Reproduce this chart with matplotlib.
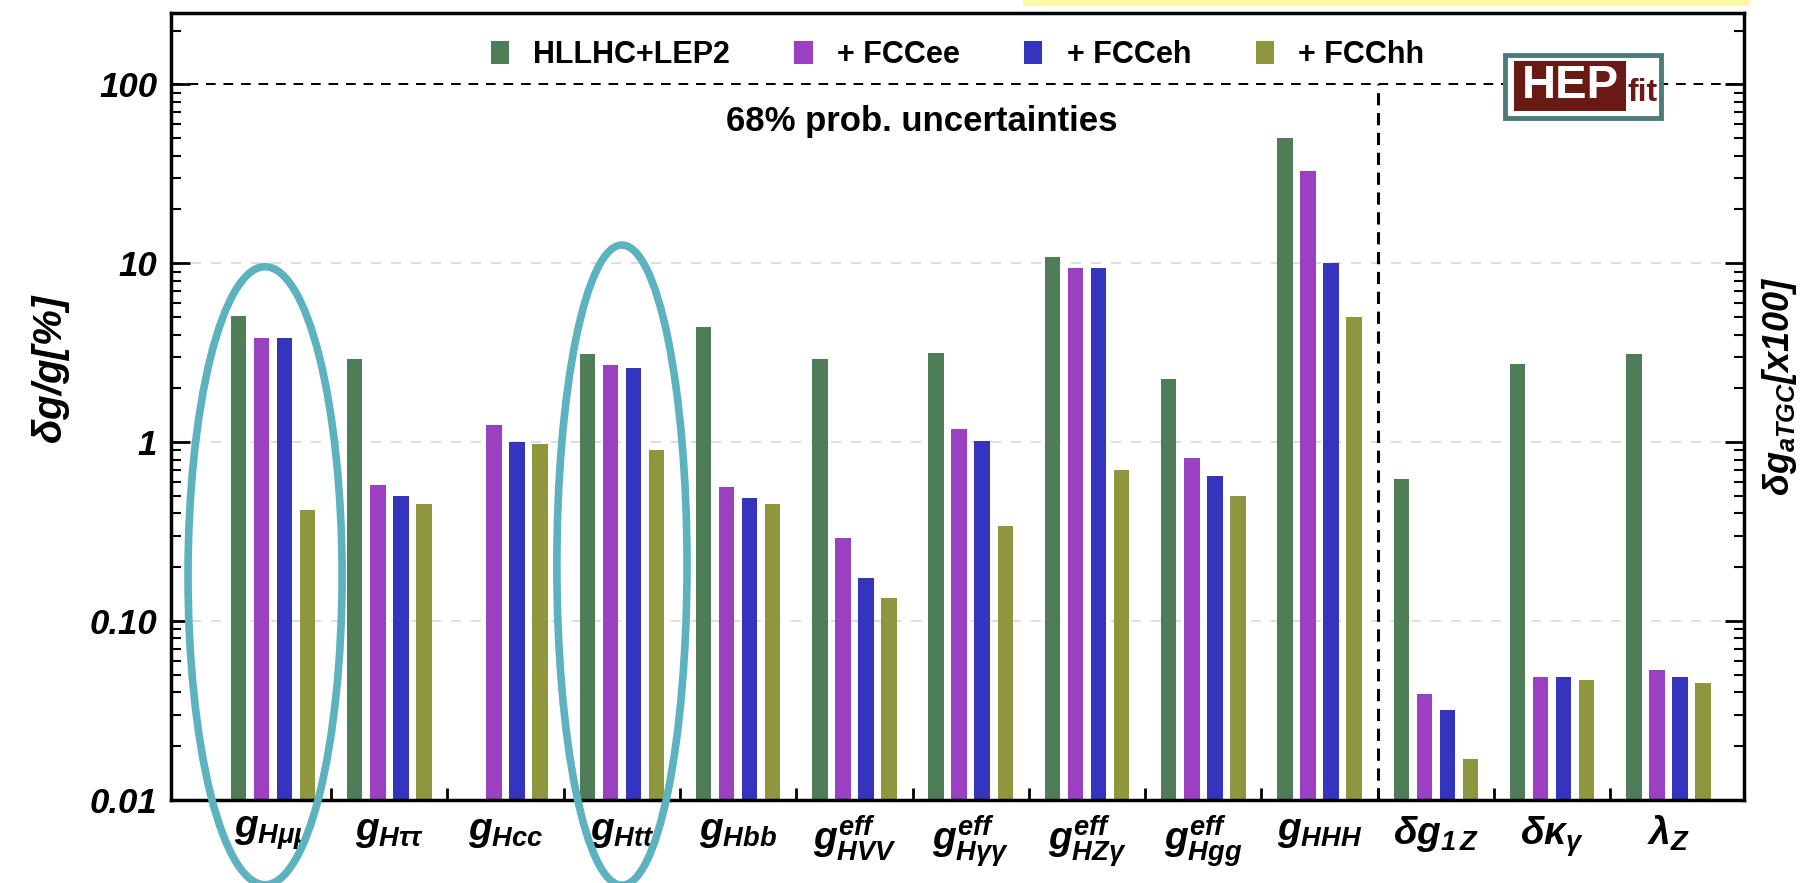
import numpy as np
import matplotlib
matplotlib.use("Agg")
import matplotlib.pyplot as plt
from matplotlib.patches import Ellipse, Rectangle
from matplotlib.ticker import FixedLocator, LogLocator, NullFormatter

plt.rcParams['font.family'] = ['Liberation Sans', 'DejaVu Sans']
plt.rcParams['mathtext.fontset'] = 'custom'
plt.rcParams['mathtext.rm'] = 'Liberation Sans:bold:italic'
plt.rcParams['mathtext.it'] = 'Liberation Sans:bold:italic'
plt.rcParams['mathtext.bf'] = 'Liberation Sans:bold:italic'

# coupling labels
labels = [r'$g_{H\mu\mu}$', r'$g_{H\tau\tau}$', r'$g_{Hcc}$', r'$g_{Htt}$', r'$g_{Hbb}$',
          r'$g^{eff}_{HVV}$', r'$g^{eff}_{H\gamma\gamma}$', r'$g^{eff}_{HZ\gamma}$',
          r'$g^{eff}_{Hgg}$', r'$g_{HHH}$', r'$\delta g_{1\,Z}$', r'$\delta\kappa_{\gamma}$',
          r'$\lambda_{Z}$']

# 68% prob. uncertainties, in %
hllhc = [5.1, 2.9, np.nan, 3.1, 4.4, 2.9, 3.15, 10.8, 2.25, 50, 0.62, 2.75, 3.1]
fccee = [3.8, 0.58, 1.25, 2.7, 0.56, 0.29, 1.18, 9.4, 0.82, 33, 0.039, 0.049, 0.053]
fcceh = [3.8, 0.50, 1.0, 2.6, 0.49, 0.175, 1.02, 9.4, 0.65, 10, 0.032, 0.049, 0.049]
fcchh = [0.42, 0.45, 0.98, 0.90, 0.45, 0.135, 0.34, 0.70, 0.50, 5.0, 0.017, 0.047, 0.045]

series = [('HLLHC+LEP2', hllhc, '#4e7d58'),
          ('+ FCCee', fccee, '#9b40c1'),
          ('+ FCCeh', fcceh, '#3434bf'),
          ('+ FCChh', fcchh, '#8e973e')]

fig = plt.figure(figsize=(18.08, 8.83), dpi=100)
ax = fig.add_axes([0.0946, 0.094, 0.87, 0.891])

x = np.arange(len(labels))
step = 0.198
width = 0.133
for i, (name, vals, col) in enumerate(series):
    ax.bar(x + (i - 1.5) * step, vals, width=width, color=col, label=name, zorder=2)

ax.set_yscale('log')
ax.set_ylim(0.01, 250)
ax.set_xlim(-0.877, 12.65)

# reference lines
for v in [0.1, 1, 10]:
    ax.axhline(v, color='#d8d8d8', lw=1.2, ls=(0, (6, 6)), zorder=1)
ax.axhline(100, color='black', lw=1.4, ls=(0, (5, 4)), zorder=1)
ax.axvline(9.5, ymax=np.log10(100 / 0.01) / np.log10(250 / 0.01), color='black',
           lw=2.2, ls=(0, (4, 2.5)), zorder=3)

# y ticks
ax.yaxis.set_major_locator(FixedLocator([0.01, 0.1, 1, 10, 100]))
ax.set_yticklabels(['0.01', '0.10', '1', '10', '100'])
ax.yaxis.set_minor_locator(LogLocator(base=10, subs=np.arange(2, 10)))
ax.yaxis.set_minor_formatter(NullFormatter())
ax.tick_params(axis='y', which='major', direction='in', length=14, width=2,
               right=True, labelsize=25, pad=10)
ax.tick_params(axis='y', which='minor', direction='in', length=7, width=1.5, right=True)
for t in ax.get_yticklabels():
    t.set_fontweight('bold')
    t.set_fontstyle('italic')

# x ticks
ax.set_xticks(x)
ax.set_xticklabels(labels, fontsize=28)
ax.set_xticks(np.arange(0.5, len(labels) - 1, 1), minor=True)
ax.tick_params(axis='x', which='major', length=0, pad=10)
ax.tick_params(axis='x', which='minor', direction='in', length=9, width=2)

for s in ax.spines.values():
    s.set_linewidth(2.5)

fig.text(0.028, 0.582, r'$\delta g/g[\%]$', fontsize=29, rotation=90,
         ha='center', va='center')
fig.text(0.984, 0.563, r'$\delta g_{aTGC}[x100]$', fontsize=26, rotation=90,
         ha='center', va='center')

ax.legend(loc='center', bbox_to_anchor=(0.5, 0.947), ncol=4, frameon=False,
          prop={'weight': 'bold', 'size': 22}, handlelength=0.6,
          handleheight=0.8, columnspacing=2.1, handletextpad=0.8)
ax.text(0.477, 0.863, '68% prob. uncertainties', transform=ax.transAxes,
        ha='center', va='center', fontsize=25, fontweight='bold')

# HEPfit logo
ax.add_patch(Rectangle((0.848, 0.867), 0.099, 0.080, transform=ax.transAxes,
                       facecolor='white', edgecolor='#4b7a77', lw=3.5, zorder=4))
ax.add_patch(Rectangle((0.854, 0.8755), 0.0712, 0.0635, transform=ax.transAxes,
                       facecolor='#6a1a15', edgecolor='none', zorder=5))
ax.text(0.8895, 0.907, 'HEP', transform=ax.transAxes, ha='center', va='center',
        color='white', fontsize=34, fontweight='bold', zorder=6,
        family=['Liberation Sans Narrow', 'Liberation Sans'])
ax.text(0.9355, 0.899, 'fit', transform=ax.transAxes, ha='center', va='center',
        color='#6a1a15', fontsize=23, fontweight='bold', zorder=6,
        family=['Liberation Sans Narrow', 'Liberation Sans'])

# highlight ellipses and top strip
fig.patches.append(Rectangle((0.566, 0.9932), 0.402, 0.0068, transform=fig.transFigure,
                             facecolor='#fcf8a8', edgecolor='none'))
fig.patches.append(Ellipse((0.1466, 0.348), 0.0852, 0.70, transform=fig.transFigure,
                           fill=False, edgecolor='#5cb2be', lw=5.5))
fig.patches.append(Ellipse((0.344, 0.36), 0.072, 0.725, transform=fig.transFigure,
                           fill=False, edgecolor='#5cb2be', lw=5.5))

fig.savefig('out.png', dpi=100)
